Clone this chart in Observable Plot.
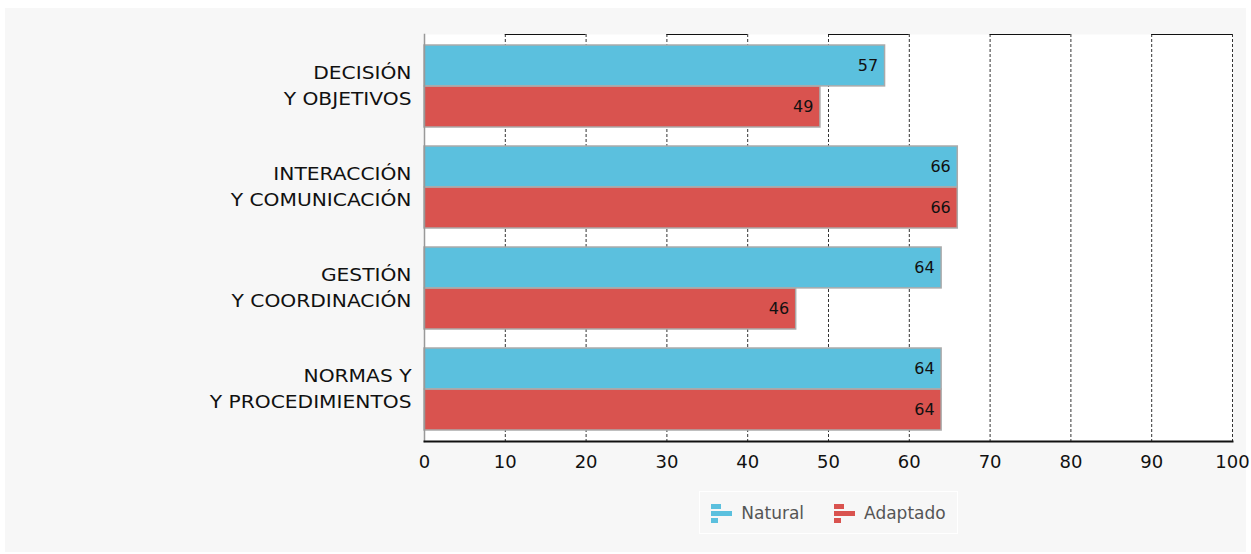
<!DOCTYPE html>
<html>
<head>
<meta charset="utf-8">
<script src="https://cdn.jsdelivr.net/npm/d3@7"></script>
<script src="https://cdn.jsdelivr.net/npm/@observablehq/plot@0.6"></script>
<style>
  html, body { margin: 0; padding: 0; background: #ffffff; }
  #box { position: absolute; left: 5px; top: 8px; width: 1241px; height: 544px; background: #f7f7f7; font-family: "DejaVu Sans", sans-serif; }
  #chart { position: absolute; left: 0; top: 0; }
  #legend { position: absolute; left: 694px; top: 483px; width: 257px; height: 41px; border: 1px solid #ffffff;
            display: flex; align-items: center; justify-content: center; gap: 30px; font-size: 17px; color: #555; }
  .item { display: flex; align-items: center; gap: 9px; }
  .item svg { display: block; }
</style>
</head>
<body>
<div id="box">
  <div id="chart"></div>
  <div id="legend"></div>
</div>
<script>
const categories = ["DECISIÓN\nY OBJETIVOS", "INTERACCIÓN\nY COMUNICACIÓN", "GESTIÓN\nY COORDINACIÓN", "NORMAS Y\nY PROCEDIMIENTOS"];
const natural = [57, 66, 64, 64];
const adaptado = [49, 66, 46, 64];
const xTicks = [0, 10, 20, 30, 40, 50, 60, 70, 80, 90, 100];
const bandStarts = [10, 30, 50, 70, 90];
const seriesNames = ["Natural", "Adaptado"];
const seriesColors = ["#5bc0de", "#d9534f"];

const data = categories.map((c, i) => ({category: c, natural: natural[i], adaptado: adaptado[i]}));

const W = 1241, H = 470, mt = 26, mb = 37, ml = 419, mr = 14;
const plotH = H - mt - mb;
const pi = 0.19, po = 0.1;
const step = plotH / (categories.length - pi + 2 * po);
const bw = step * (1 - pi);

const chart = Plot.plot({
  width: W, height: H, marginTop: mt, marginBottom: mb, marginLeft: ml, marginRight: mr,
  style: {background: "transparent", fontFamily: "DejaVu Sans, sans-serif", fontSize: "18px", color: "#111", overflow: "visible"},
  x: {domain: [0, 100], label: null},
  y: {domain: categories, paddingInner: pi, paddingOuter: po, label: null},
  marks: [
    Plot.frame({fill: "#ffffff", stroke: null}),
    Plot.ruleX(xTicks.slice(1), {stroke: "#333", strokeWidth: 1, strokeDasharray: "3,2"}),
    Plot.rect(bandStarts, {x1: d => d, x2: d => d + 10, fill: "#111", insetBottom: plotH - 1}),
    Plot.barX(data, {x: "natural", y: "category", fill: seriesColors[0], stroke: "#aaa", strokeWidth: 1.5, insetBottom: bw / 2}),
    Plot.barX(data, {x: "adaptado", y: "category", fill: seriesColors[1], stroke: "#aaa", strokeWidth: 1.5, insetTop: bw / 2}),
    Plot.text(data, {x: "natural", y: "category", text: d => String(d.natural), textAnchor: "end", dx: -7, dy: -bw / 4, fontSize: 16, fill: "#111"}),
    Plot.text(data, {x: "adaptado", y: "category", text: d => String(d.adaptado), textAnchor: "end", dx: -7, dy: bw / 4, fontSize: 16, fill: "#111"}),
    Plot.frame({anchor: "left", stroke: "#999", strokeWidth: 1.5}),
    Plot.frame({anchor: "bottom", stroke: "#111", strokeWidth: 2}),
    Plot.axisX({ticks: xTicks, tickSize: 0, tickPadding: 14, fontSize: 18, fill: "#111"}),
    Plot.axisY({tickSize: 0, tickPadding: 13, dy: -2.5, fontSize: 17, lineHeight: 1.5, fill: "#111"})
  ]
});
document.getElementById("chart").appendChild(chart);

// the reference's category labels are drawn horizontally widened
chart.querySelectorAll('g[aria-label="y-axis tick label"] text').forEach(t => {
  const x = +t.getAttribute("x") || 0, y = +t.getAttribute("y") || 0;
  const tr = t.getAttribute("transform") || "";
  t.setAttribute("transform", `${tr} translate(${x},${y}) scale(1.19,1) translate(${-x},${-y})`);
});

const legend = document.getElementById("legend");
seriesNames.forEach((name, i) => {
  const item = document.createElement("div");
  item.className = "item";
  const c = seriesColors[i];
  item.innerHTML = `<svg width="21" height="20" viewBox="0 0 21 20">
    <rect x="0" y="1" width="10" height="5" fill="${c}"/>
    <rect x="0" y="8" width="21" height="5" fill="${c}"/>
    <rect x="0" y="15" width="7" height="5" fill="${c}"/>
  </svg><span>${name}</span>`;
  legend.appendChild(item);
});
</script>
</body>
</html>
